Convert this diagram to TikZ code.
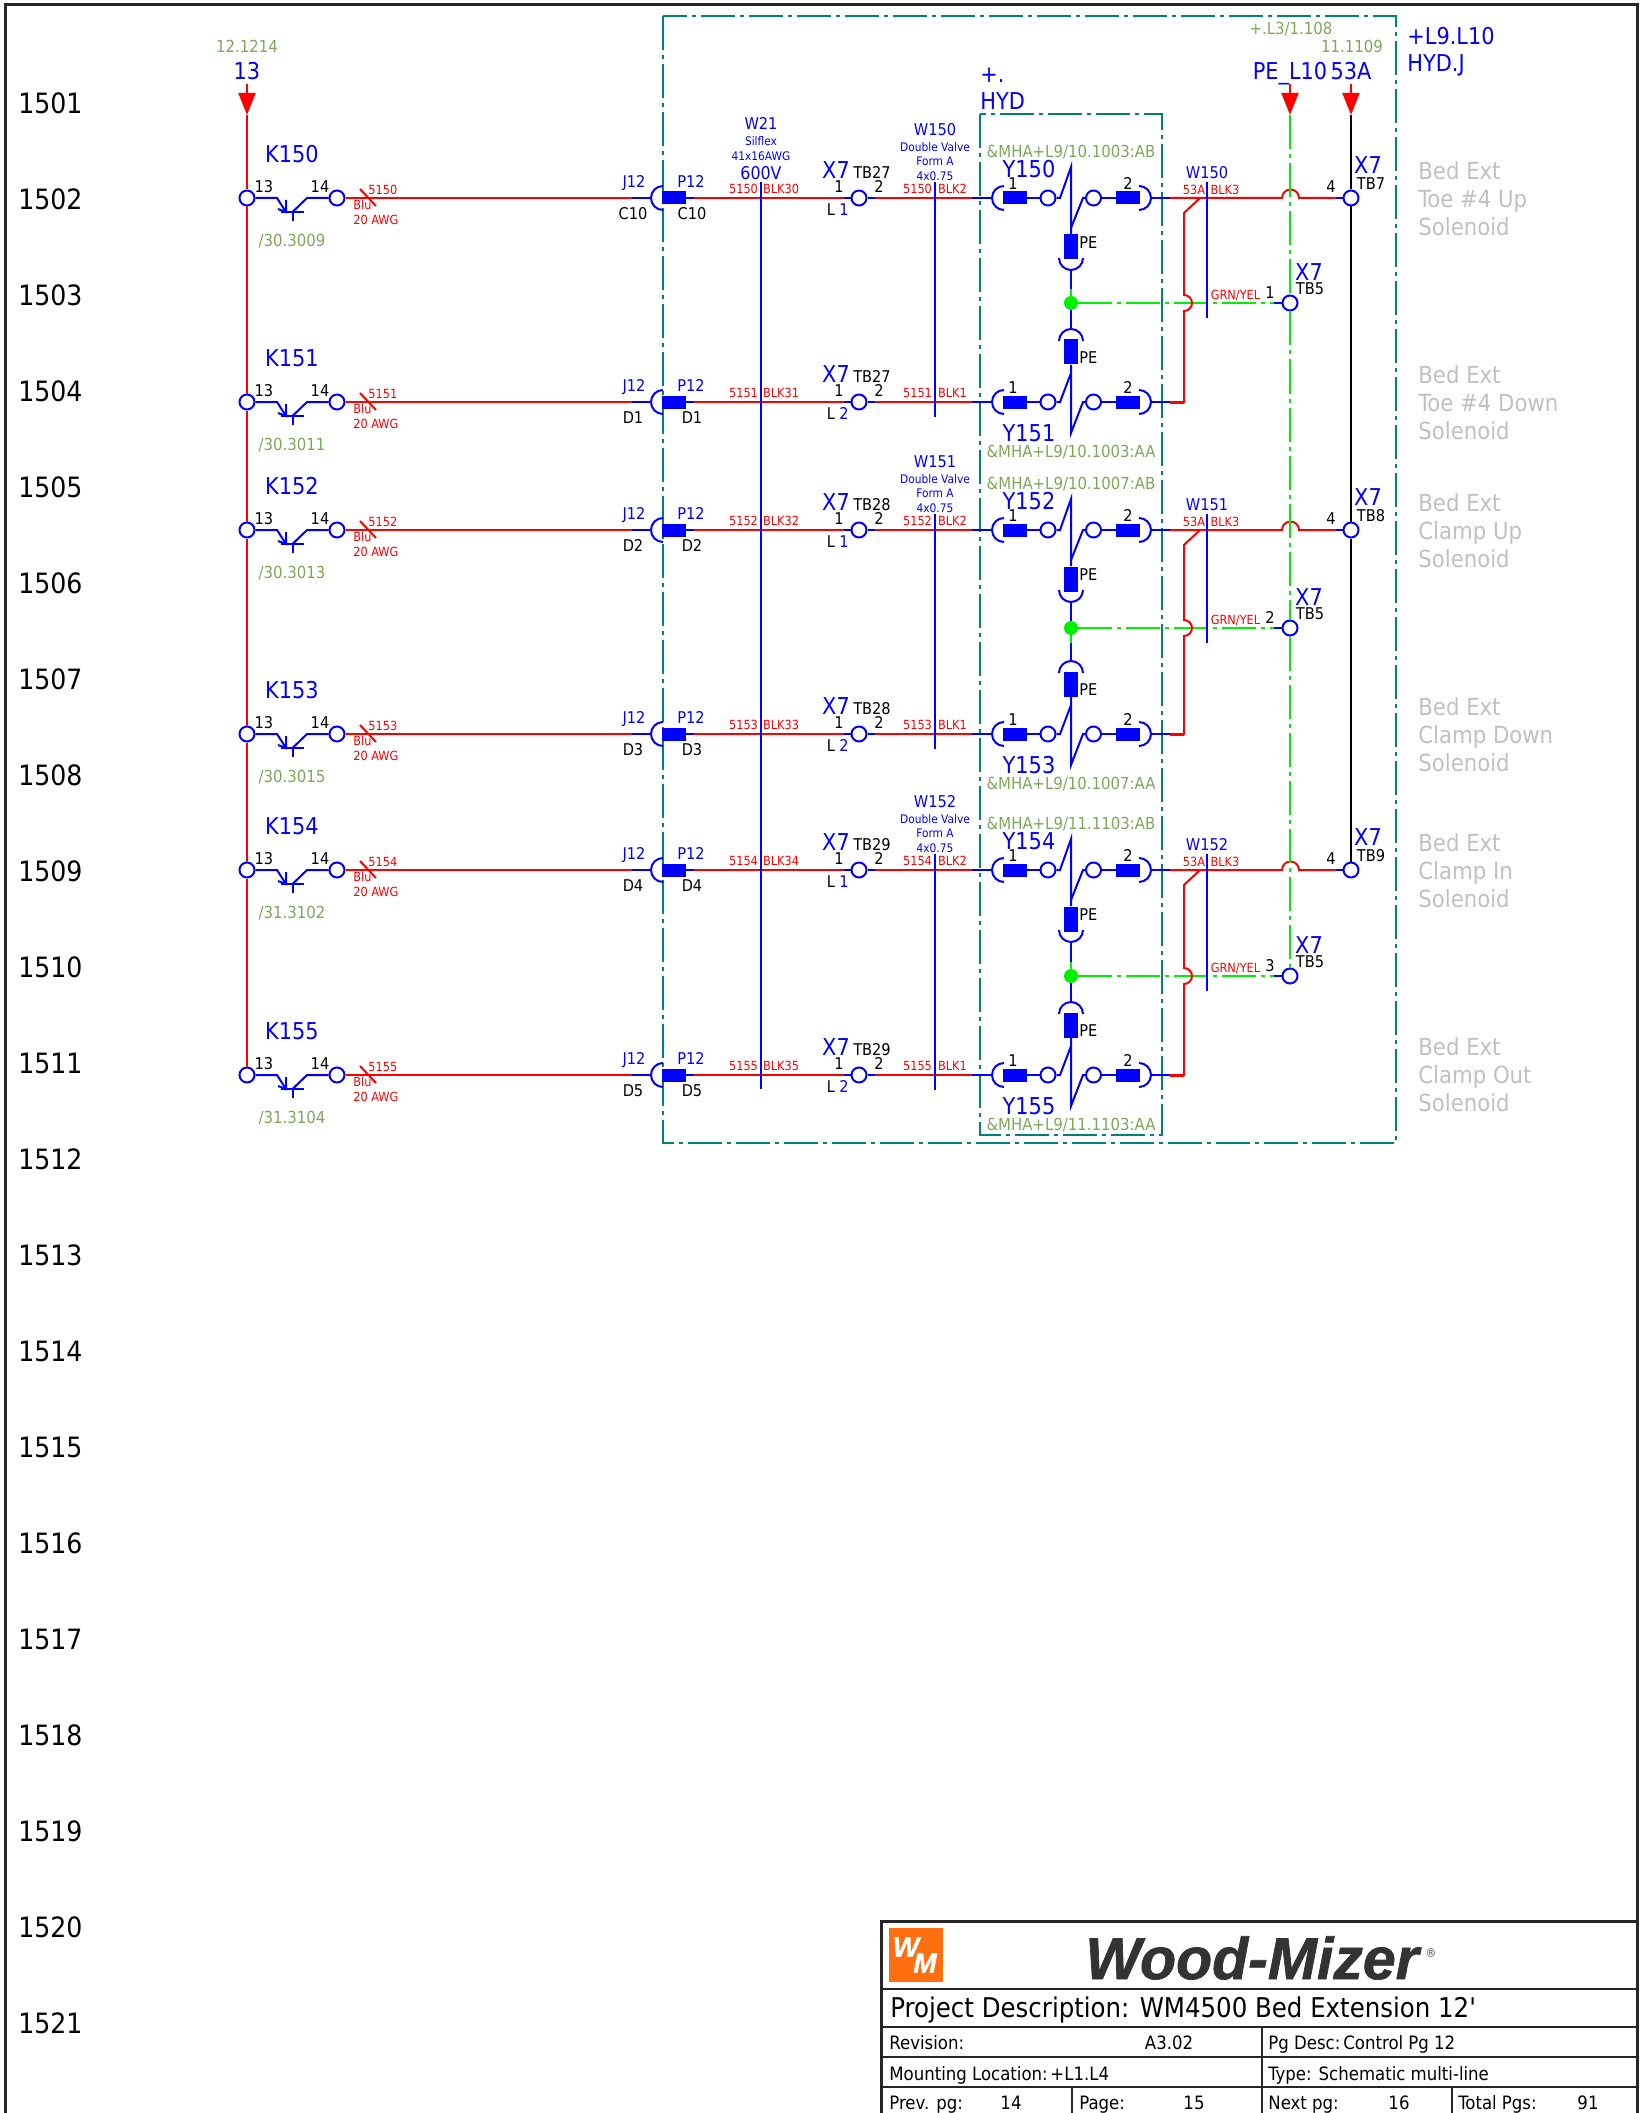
\documentclass[tikz,border=0pt]{standalone}
\usepackage{fontspec}
\usetikzlibrary{arrows.meta}
\setmainfont{DejaVu Sans Condensed}
\newfontfamily\logofont[FakeBold=1.2]{Liberation Sans}

\definecolor{wireblue}{RGB}{0,0,255}
\definecolor{wirered}{RGB}{255,0,0}
\definecolor{pegreen}{RGB}{0,240,0}
\definecolor{boxteal}{RGB}{0,128,120}
\definecolor{refgreen}{RGB}{128,166,90}
\definecolor{notegrey}{RGB}{192,192,192}
\definecolor{logoorange}{RGB}{255,110,15}

\tikzstyle{every node}=[inner sep=0pt]
\tikzstyle{fRow}=[font=\fontsize{14}{14}\selectfont, anchor=west]
\tikzstyle{fA}=[font=\fontsize{11.6}{14}\selectfont, text height=8.6pt, text depth=0pt, text=wireblue]
\tikzstyle{fB}=[font=\fontsize{8.1}{10}\selectfont, text height=5.9pt, text depth=0pt]
\tikzstyle{fC}=[font=\fontsize{6.3}{8}\selectfont, text height=4.6pt, text depth=0pt, text=wirered]
\tikzstyle{fD}=[font=\fontsize{8.3}{10}\selectfont, text height=6.2pt, text depth=0pt, text=refgreen]
\tikzstyle{fCable}=[font=\fontsize{5.9}{7.3}\selectfont, text=wireblue, align=center]
\tikzstyle{note}=[font=\fontsize{11.8}{14}\selectfont, text=notegrey, align=left, anchor=west]
\tikzstyle{fTitle}=[font=\fontsize{9.2}{10}\selectfont, text height=6.7pt, text depth=0pt]
\tikzstyle{term}=[circle, draw=wireblue, fill=white, line width=1pt, minimum size=7.5pt]
\tikzstyle{pinh}=[rectangle, fill=wireblue, minimum width=12pt, minimum height=6.5pt]
\tikzstyle{pinv}=[rectangle, fill=wireblue, minimum width=7pt, minimum height=12.5pt]
\tikzstyle{bw}=[draw=wireblue, line width=1pt]
\tikzstyle{rw}=[draw=wirered, line width=1pt]
\tikzstyle{gw}=[draw=pegreen, line width=1pt, dash pattern=on 17pt off 2.5pt on 2pt off 2.5pt]
\tikzstyle{box}=[draw=boxteal, line width=1pt, dash pattern=on 17pt off 2.5pt on 2pt off 2.5pt]
\tikzstyle{feed}=[draw=wirered, line width=1pt, -{Triangle[length=11pt,width=8.5pt,fill=wirered]}]
\tikzstyle{rule}=[draw=black!85, line width=1pt]

\begin{document}
\begin{tikzpicture}[x=0.5pt,y=-0.5pt]
    \useasboundingbox (0,0) rectangle (1642,2113);

    % sheet frame and row numbers
    \draw[black!85, line width=1.5pt] (5,2113) -- (5,5) -- (1637,5) -- (1637,2113);
    \foreach \i in {1,...,21}
    {
        \pgfmathtruncatemacro{\num}{1500+\i}
        \node[fRow] (row\num) at (18,{7+96*\i}) {\num};
    }

    % location boxes
    \draw[box] (663,16) rectangle (1396,1143);
    \draw[box] (980,114) rectangle (1162,1135);
    \node[fA, anchor=west] (loca) at (1407,36) {+L9.L10};
    \node[fA, anchor=west] (locb) at (1407,63) {HYD.J};
    \node[fA, anchor=west] (hyda) at (980,74) {+.};
    \node[fA, anchor=west] (hydb) at (980,101) {HYD};

    % potentials coming in from other sheets
    \foreach \x/\pot in {247/13,1290/PE\_L10,1351/53A}
    {
        \coordinate (top\x) at (\x,84);
        \coordinate (tip\x) at (\x,115);
        \node[fA] (pot\x) at (\x,71) {\pot};
    }
    \node[fD] (xrefa) at (247,46) {12.1214};
    \node[fD] (xrefb) at (1291,28) {+.L3/1.108};
    \node[fD] (xrefc) at (1352,46) {11.1109};

    % the six solenoid rows
    \foreach \n/\y/\pin/\blk/\tb/\side/\cab/\xref in {
        150/198/C10/30/27/1/2/30.3009,
        151/402/D1/31/27/2/1/30.3011,
        152/530/D2/32/28/1/2/30.3013,
        153/734/D3/33/28/2/1/30.3015,
        154/870/D4/34/29/1/2/31.3102,
        155/1075/D5/35/29/2/1/31.3104}
    {
        \node[term] (in\n) at (247,\y) {};
        \node[term] (out\n) at (337,\y) {};
        \node[pinh] (pa\n) at (674,\y) {};
        \node[term] (x\n) at (859,\y) {};
        \node[pinh] (ya\n) at (1015,\y) {};
        \node[term] (yb\n) at (1048,\y) {};
        \node[term] (yc\n) at (1093.5,\y) {};
        \node[pinh] (yd\n) at (1128,\y) {};

        % contact
        \draw[bw] (in\n) -- (277,\y) -- (286,\y+14);
        \draw[bw] (286,\y+2) -- (286,\y+14) -- (278,\y+11);
        \draw[bw] (281,\y+14) -- (304,\y+14) (292.5,\y+14) -- (292.5,\y+23);
        \draw[bw] (292.5,\y+14) -- (307,\y) -- (out\n);

        % wire up to the plug and on to the coil
        \coordinate (ja\n) at (632,\y);
        \coordinate (jb\n) at (651,\y);
        \coordinate (xa\n) at (844,\y);
        \coordinate (xb\n) at (875,\y);
        \coordinate (cb\n) at (972,\y);
        \coordinate (cc\n) at (992,\y);
        \coordinate (pb\n) at (694,\y);
        \draw[rw] (out\n) -- (ja\n);
        \draw[bw] (ja\n) -- (jb\n);
        \draw[bw] (663,\y-12) arc[start angle=-90, end angle=-270, radius=12];
        \draw[bw] (pa\n) -- (pb\n);
        \draw[rw] (pb\n) -- (xa\n);
        \draw[bw] (xa\n) -- (x\n) -- (xb\n);
        \draw[rw] (xb\n) -- (cb\n);
        \draw[bw] (cb\n) -- (cc\n);
        \draw[bw] (1004,\y-12) arc[start angle=-90, end angle=-270, radius=12];
        \draw[bw] (ya\n) -- (yb\n) (yc\n) -- (yd\n);
        \draw[bw] (1139,\y-12) arc[start angle=-90, end angle=90, radius=12];
        \draw[rw] (360,\y-9) -- (376,\y+8);

        % texts of the row
        \node[fA] (k\n) at (292,\y-44) {K\n};
        \node[fB] (tca\n) at (264,\y-11) {13};
        \node[fB] (tcb\n) at (320,\y-11) {14};
        \node[fD] (back\n) at (292,\y+42) {/\xref};
        \node[fC] (wa\n) at (368,\y-8) [anchor=west] {5\n};
        \node[fC] (wb\n) at (353,\y+7) [anchor=west] {Blu};
        \node[fC] (wc\n) at (353,\y+22) [anchor=west] {20 AWG};
        \node[fB, text=wireblue] (j\n) at (634,\y-16) {J12};
        \node[fB] (jc\n) at (633,\y+16) {\pin};
        \node[fB, text=wireblue] (p\n) at (691,\y-16) {P12};
        \node[fB] (pc\n) at (692,\y+16) {\pin};
        \node[fC] (ea\n) at (743.5,\y-9) {5\n};
        \node[fC] (eb\n) at (781,\y-9) {BLK\blk};
        \node[fA] (xn\n) at (836,\y-28) {X7};
        \node[fB] (xt\n) at (872,\y-25) {TB\tb};
        \node[fB] (xo\n) at (839,\y-11) {1};
        \node[fB] (xp\n) at (879,\y-11) {2};
        \node[fB] (xl\n) at (831,\y+12) {L};
        \node[fB, text=wireblue] (xs\n) at (844,\y+12) {\side};
        \node[fC] (fa\n) at (917.5,\y-9) {5\n};
        \node[fC] (fb\n) at (952.5,\y-9) {BLK\cab};
        \node[fB] (yo\n) at (1013,\y-14) {1};
        \node[fB] (yp\n) at (1128,\y-14) {2};
    }

    % feeds, bus and return
    \draw[feed] (top247) -- (tip247);
    \draw[feed] (top1290) -- (tip1290);
    \draw[feed] (top1351) -- (tip1351);
    \draw[rw] (tip247) -- (in150) -- (in151) -- (in152) -- (in153) -- (in154) -- (in155);

    % shield of the long cable
    \coordinate (wtop) at (761,182);
    \coordinate (wbot) at (761,1089);
    \draw[bw] (wtop) -- (wbot);
    \node[fB, text=wireblue] (wname) at (761,124) {W21};
    \node[fCable] (wtype) at (761,148.5) {Silflex\\41x16AWG};
    \node[font=\fontsize{8.8}{10}\selectfont, text height=6.4pt, text depth=0pt, text=wireblue] (wvolt) at (761,173) {600V};

    % one valve: two coils, earth point and the wire back
    \foreach \n/\m/\y/\z/\g/\sa/\w/\tbr/\k/\ea/\eb in {
        150/151/198/402/303/289/150/7/1/10.1003/10.1003,
        152/153/530/734/628/643/151/8/2/10.1007/10.1007,
        154/155/870/1075/976/962/152/9/3/11.1103/11.1103}
    {
        \node[pinv] (pe\n) at (1071,\y+49) {};
        \node[pinv] (pe\m) at (1071,\z-50) {};
        \node[circle, fill=pegreen, minimum size=7pt] (dot\w) at (1071,\g) {};
        \node[term] (tg\w) at (1290,\g) {};
        \node[term] (tr\w) at (1351,\y) {};

        % upper coil
        \draw[bw] (yb\n) -- (1060,\y) -- (1071,\y-31) -- (pe\n);
        \draw[bw] (yc\n) -- (1083,\y) -- (1071,\y+30);
        \draw[bw] (1083,\y+60) arc[start angle=0, end angle=180, radius=12];
        \draw[bw] (1071,\y+72) -- (dot\w);
        % lower coil
        \draw[bw] (yb\m) -- (1060,\z) -- (1071,\z-29);
        \draw[bw] (yc\m) -- (1083,\z) -- (1071,\z+31) -- (pe\m);
        \draw[bw] (1083,\z-61) arc[start angle=0, end angle=-180, radius=12];
        \draw[bw] (1071,\z-73) -- (dot\w);
        \draw[draw=pegreen, line width=1pt] (1071,\sa) -- (dot\w);

        % earth wire
        \coordinate (gs\w) at (1274,\g);
        \draw[gw] (dot\w) -- (gs\w);
        \draw[bw] (gs\w) -- (tg\w);

        % red wires to the 53A bus
        \coordinate (ra\n) at (1151,\y);
        \coordinate (rb\n) at (1170,\y);
        \coordinate (ra\m) at (1151,\z);
        \coordinate (rb\m) at (1170,\z);
        \coordinate (rc\w) at (1336,\y);
        \draw[bw] (ra\n) -- (rb\n);
        \draw[bw] (ra\m) -- (rb\m);
        \draw[rw] (rb\n) -- (1282,\y) arc[start angle=180, end angle=360, radius=8.5] -- (rc\w);
        \draw[bw] (rc\w) -- (tr\w);
        \draw[rw] (rb\m) -- (1184,\z) -- (1184,\g+8) arc[start angle=90, end angle=-90, radius=8] -- (1184,\y+15) -- (1200,\y);
        \draw[rw, line width=1.5pt] (rb\m) -- (1184,\z);

        % shields
        \draw[bw] (935,\y-16) -- (935,\z+15);
        \draw[bw] (1207,\y-16) -- (1207,\g+15);

        % texts of the valve
        \node[fB, text=wireblue] (wa\w) at (935,\y-68) {W\w};
        \node[fCable] (wt\w) at (935,\y-36.5) {Double Valve\\Form A\\4x0.75};
        \node[fB, text=wireblue] (wb\w) at (1207,\y-25) {W\w};
        \node[fD] (aa\n) at (1071,\y-47) {\&MHA+L9/\ea:AB};
        \node[fD] (aa\m) at (1071,\z+49) {\&MHA+L9/\eb:AA};
        \node[fA] (yn\n) at (1029,\y-29) {Y\n};
        \node[fA] (yn\m) at (1029,\z+31) {Y\m};
        \node[fB] (pet\n) at (1079,\y+45) [anchor=west] {PE};
        \node[fB] (pet\m) at (1079,\z-44) [anchor=west] {PE};
        \node[fC] (wd\w) at (1194,\y-8) {53A};
        \node[fC] (we\w) at (1225,\y-8) {BLK3};
        \node[fC] (wf\w) at (1235.5,\g-8) {GRN/YEL};
        \node[fB] (gn\w) at (1270,\g-10) {\k};
        \node[fA] (gx\w) at (1309,\g-31) {X7};
        \node[fB] (gt\w) at (1310,\g-14) {TB5};
        \node[fB] (rn\w) at (1331,\y-11) {4};
        \node[fA] (rx\w) at (1368,\y-33) {X7};
        \node[fB] (rt\w) at (1371,\y-14) {TB\tbr};
    }

    % earth and 53A bus over the rows
    \draw[gw] (tip1290) -- (tg150) -- (tg151) -- (tg152);
    \draw[black, line width=1pt] (tip1351) -- (tr150) -- (tr151) -- (tr152);

    % description of each solenoid
    \foreach \n/\y/\txt in {150/199/Toe \#4 Up,151/403/Toe \#4 Down,152/531/Clamp Up,153/735/Clamp Down,154/871/Clamp In,155/1075/Clamp Out}
    {
        \node[note] (note\n) at (1418,\y) {Bed Ext\\\txt\\Solenoid};
    }

    % title block
    \draw[black!85, line width=1.5pt] (881,2113) -- (881,1921) -- (1637,1921);
    \foreach \y in {1989,2027,2057,2087}
    {
        \draw[rule] (881,\y) -- (1637,\y);
    }
    \draw[rule] (1262,2027) -- (1262,2113);
    \draw[rule] (1072,2087) -- (1072,2113);
    \draw[rule] (1452,2087) -- (1452,2113);

    \fill[logoorange] (889,1928) rectangle (943,1982);
    \node[font=\logofont\bfseries\itshape\fontsize{14}{14}\selectfont, text=white] (logow) at (906,1947) {W};
    \node[font=\logofont\bfseries\itshape\fontsize{14}{14}\selectfont, text=white] (logom) at (925,1963) {M};
    \node[font=\logofont\bfseries\itshape\fontsize{29.5}{31}\selectfont, text=black!80, anchor=west] (brand) at (1085,1958) {Wood-Mizer};
    \node[font=\fontsize{6}{6}\selectfont, text=black!70] (brandr) at (1431,1953) {\textregistered};

    \node[font=\fontsize{13.6}{15}\selectfont, anchor=west] (project) at (890,2010) {Project Description: WM4500 Bed Extension 12\textquotesingle};
    \node[fTitle, anchor=west] (rev) at (889,2043) {Revision:};
    \node[fTitle] (revv) at (1169,2043) {A3.02};
    \node[fTitle, anchor=west] (desc) at (1268,2043) {Pg Desc:};
    \node[fTitle, anchor=west] (descv) at (1343,2043) {Control Pg 12};
    \node[fTitle, anchor=west] (mount) at (889,2074) {Mounting Location:};
    \node[fTitle, anchor=west] (mountv) at (1050,2074) {+L1.L4};
    \node[fTitle, anchor=west] (type) at (1268,2074) {Type: Schematic multi-line};
    \node[fTitle, anchor=west] (prev) at (889,2103) {Prev. pg:};
    \node[fTitle] (prevv) at (1011,2103) {14};
    \node[fTitle, anchor=west] (page) at (1079,2103) {Page:};
    \node[fTitle] (pagev) at (1194,2103) {15};
    \node[fTitle, anchor=west] (next) at (1268,2103) {Next pg:};
    \node[fTitle] (nextv) at (1399,2103) {16};
    \node[fTitle, anchor=west] (total) at (1458,2103) {Total Pgs:};
    \node[fTitle] (totalv) at (1588,2103) {91};
\end{tikzpicture}
\end{document}
